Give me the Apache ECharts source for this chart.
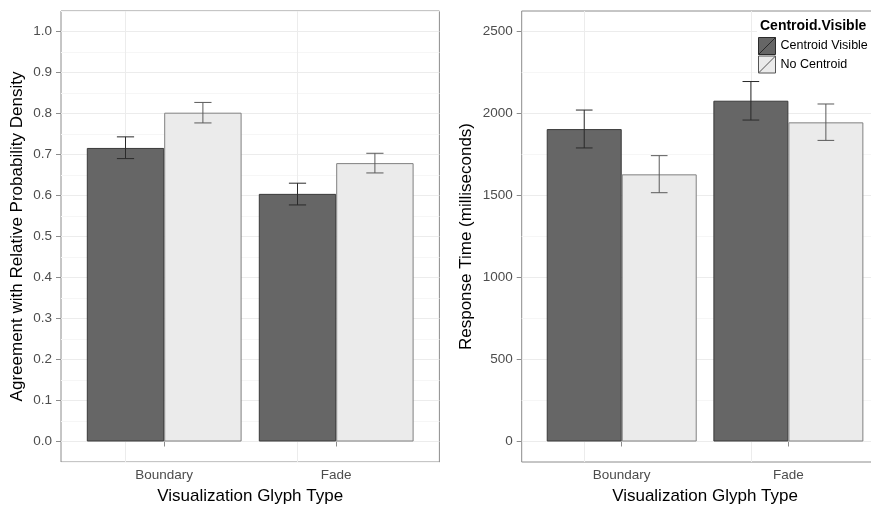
<!DOCTYPE html>
<html>
<head>
<meta charset="utf-8">
<script src="https://cdn.jsdelivr.net/npm/echarts@6/dist/echarts.min.js"></script>
<style>
  html, body { margin: 0; padding: 0; background: #fff; }
  #chart { width: 871px; height: 506px; }
</style>
</head>
<body>
<div id="chart"></div>
<script>
// data
var categories = ["Boundary", "Fade"];
var groups = ["Centroid Visible", "No Centroid"];

var agreeVisible = [0.716, 0.604];
var agreeVisibleLo = [0.690, 0.577];
var agreeVisibleHi = [0.743, 0.630];
var agreeNone = [0.802, 0.679];
var agreeNoneLo = [0.777, 0.655];
var agreeNoneHi = [0.827, 0.703];

var timeVisible = [1905, 2078];
var timeVisibleLo = [1790, 1960];
var timeVisibleHi = [2021, 2195];
var timeNone = [1629, 1946];
var timeNoneLo = [1517, 1836];
var timeNoneHi = [1743, 2058];

var agreeTicks = [0, 0.1, 0.2, 0.3, 0.4, 0.5, 0.6, 0.7, 0.8, 0.9, 1.0];
var timeTicks = [0, 500, 1000, 1500, 2000, 2500];

var font = "'Liberation Sans', Arial, Helvetica, sans-serif";
var borderGrey = "#8c8c8c";
var major = "#ececec";
var minor = "#f6f6f6";
var none = "rgba(0,0,0,0)";
var darkFill = "#666666", darkLine = "#3a3a3a";
var lightFill = "#ebebeb", lightLine = "#808080";

var chart = echarts.init(document.getElementById("chart"));

// panel frame axis: only draws the horizontal grid lines
function frameAxis(gridIndex, min, max, interval, colors) {
  return {
    type: "value", gridIndex: gridIndex, position: "left", min: min, max: max, interval: interval,
    axisLine: { show: false }, axisTick: { show: false }, axisLabel: { show: false },
    splitLine: { show: true, lineStyle: { color: colors, width: 1 } }
  };
}

function labelAxis(gridIndex, min, max, ticks, fmt, name, nameGap) {
  return {
    type: "value", gridIndex: gridIndex, position: "left", min: min, max: max,
    name: name, nameLocation: "middle", nameGap: nameGap,
    nameTextStyle: { fontSize: 17, color: "#000", fontFamily: font },
    axisLine: { show: false },
    axisTick: { show: true, length: 5, customValues: ticks, lineStyle: { color: borderGrey } },
    axisLabel: { customValues: ticks, formatter: fmt, color: "#4d4d4d", fontSize: 13.5, margin: 9, fontFamily: font },
    splitLine: { show: false }
  };
}

function hiddenY(gridIndex, min, max) {
  return { type: "value", gridIndex: gridIndex, position: "left", min: min, max: max, show: false, splitLine: { show: false } };
}

function catAxis(gridIndex) {
  return {
    type: "category", gridIndex: gridIndex, position: "bottom", data: categories,
    name: "Visualization Glyph Type", nameLocation: "middle", nameGap: 26,
    nameTextStyle: { fontSize: 17, color: "#000", fontFamily: font },
    axisLine: { show: false },
    axisTick: { show: true, alignWithLabel: true, length: 5, lineStyle: { color: borderGrey } },
    axisLabel: { color: "#4d4d4d", fontSize: 13.5, margin: 6, fontFamily: font },
    splitLine: { show: false }
  };
}

function bar(name, xi, yi, data, fill, line, withGridLines) {
  var s = {
    type: "bar", name: name, xAxisIndex: xi, yAxisIndex: yi, data: data,
    barGap: "0%", barCategoryGap: "10%", z: 3,
    itemStyle: { color: fill, borderColor: line, borderWidth: 1 }
  };
  if (withGridLines) {
    s.markLine = {
      silent: true, symbol: "none", z: 1, animation: false,
      label: { show: false },
      lineStyle: { color: major, type: "solid", width: 1 },
      data: categories.map(function (c) { return { xAxis: c }; })
    };
  }
  return s;
}

function errorBars(xi, yi, lo, hi, side, color) {
  return {
    type: "custom", xAxisIndex: xi, yAxisIndex: yi, z: 4,
    data: lo.map(function (l, i) { return [i, l, hi[i]]; }),
    encode: { x: 0, y: [1, 2] },
    renderItem: function (params, api) {
      var band = api.size([1, 0])[0];
      var c = api.value(0);
      var top = api.coord([c, api.value(2)]);
      var bot = api.coord([c, api.value(1)]);
      var x = top[0] + side * band * 0.225;
      var half = band * 0.05;
      var st = { stroke: color, lineWidth: 1 };
      return {
        type: "group",
        children: [
          { type: "line", shape: { x1: x, y1: top[1], x2: x, y2: bot[1] }, style: st },
          { type: "line", shape: { x1: x - half, y1: top[1], x2: x + half, y2: top[1] }, style: st },
          { type: "line", shape: { x1: x - half, y1: bot[1], x2: x + half, y2: bot[1] }, style: st }
        ]
      };
    }
  };
}

var keyIcon = "path://M0,0H20V20H0Z M0,20L20,0";

var option = {
  animation: false,
  backgroundColor: "#fff",
  textStyle: { fontFamily: font },
  title: {
    text: "Centroid.Visible", left: 760, top: 19, padding: 0, z: 11,
    textStyle: { fontSize: 14, fontWeight: "bold", color: "#000", fontFamily: font }
  },
  legend: {
    left: 758, top: 37, orient: "vertical", padding: 0, itemGap: 0.5,
    itemWidth: 17, itemHeight: 17, selectedMode: false, z: 11,
    textStyle: { fontSize: 12.5, color: "#000", fontFamily: font },
    data: [
      { name: groups[0], icon: keyIcon, itemStyle: { color: darkFill, borderColor: "#2a2a2a", borderWidth: 1 } },
      { name: groups[1], icon: keyIcon, itemStyle: { color: lightFill, borderColor: "#555", borderWidth: 1 } }
    ]
  },
  graphic: [
    { type: "rect", z: 10, silent: true, shape: { x: 757, y: 12, width: 114, height: 62 }, style: { fill: "#fff" } }
  ],
  grid: [
    { left: 61, top: 11, width: 378.4, height: 451, outerBoundsMode: "none", show: true, borderColor: borderGrey, borderWidth: 1, backgroundColor: "#fff" },
    { left: 78.2, top: 11, width: 344, height: 451, outerBoundsMode: "none" },
    { left: 521.7, top: 11, width: 366.6, height: 451, outerBoundsMode: "none", show: true, borderColor: borderGrey, borderWidth: 1, backgroundColor: "#fff" },
    { left: 538.4, top: 11, width: 333.3, height: 451, outerBoundsMode: "none" }
  ],
  xAxis: [
    { type: "value", gridIndex: 0, position: "bottom", min: 0, max: 1, show: false },
    catAxis(1),
    { type: "value", gridIndex: 2, position: "bottom", min: 0, max: 1, show: false },
    catAxis(3)
  ],
  yAxis: [
    frameAxis(0, -0.05, 1.05, 0.05, [minor, major]),
    labelAxis(0, -0.05, 1.05, agreeTicks, function (v) { return v.toFixed(1); },
      "Agreement with Relative Probability Density", 35),
    hiddenY(1, -0.05, 1.05),
    frameAxis(2, -125, 2625, 125, [none, major, none, minor]),
    labelAxis(2, -125, 2625, timeTicks, function (v) { return String(v); },
      "Response Time (milliseconds)", 47),
    hiddenY(3, -125, 2625)
  ],
  series: [
    bar(groups[0], 1, 2, agreeVisible, darkFill, darkLine, true),
    bar(groups[1], 1, 2, agreeNone, lightFill, lightLine, false),
    errorBars(1, 2, agreeVisibleLo, agreeVisibleHi, -1, "#2a2a2a"),
    errorBars(1, 2, agreeNoneLo, agreeNoneHi, 1, "#5a5a5a"),
    bar(groups[0], 3, 5, timeVisible, darkFill, darkLine, true),
    bar(groups[1], 3, 5, timeNone, lightFill, lightLine, false),
    errorBars(3, 5, timeVisibleLo, timeVisibleHi, -1, "#2a2a2a"),
    errorBars(3, 5, timeNoneLo, timeNoneHi, 1, "#5a5a5a")
  ]
};

chart.setOption(option);
</script>
</body>
</html>
